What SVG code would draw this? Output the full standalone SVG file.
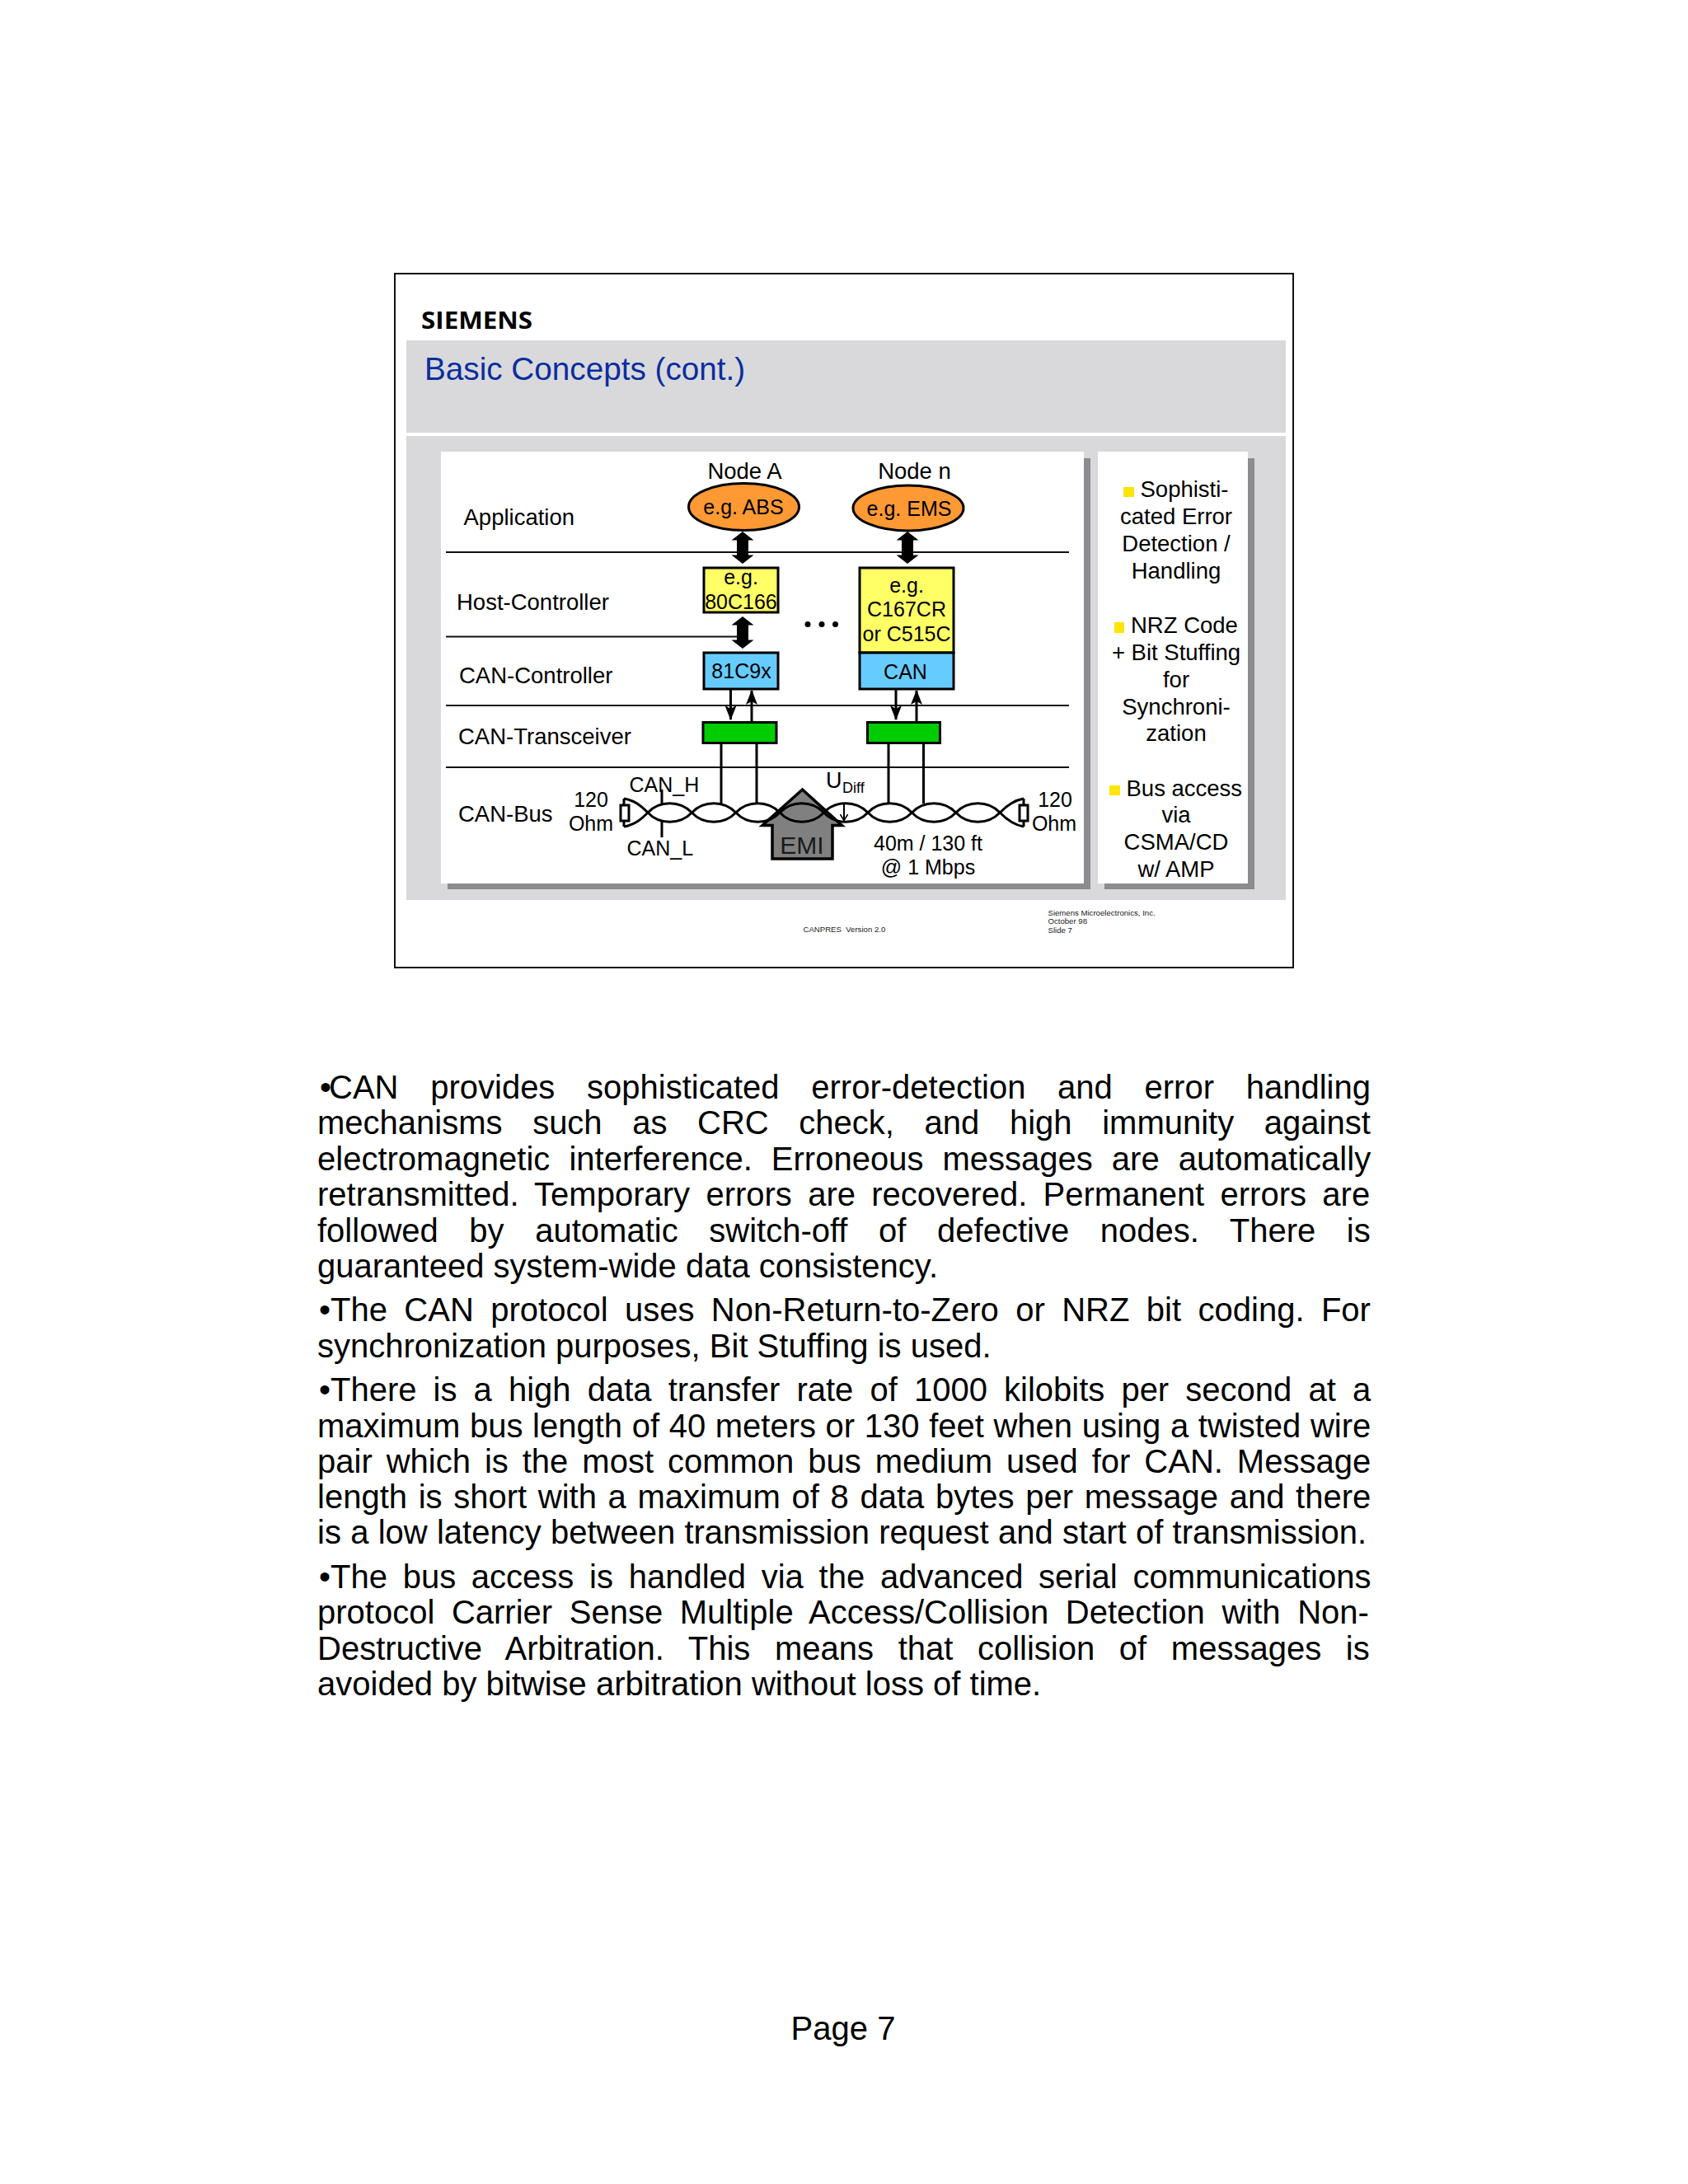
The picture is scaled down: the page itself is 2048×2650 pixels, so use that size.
<svg xmlns="http://www.w3.org/2000/svg" width="2048" height="2650" viewBox="0 0 2048 2650">
<style>
text{font-family:"Liberation Sans",Arial,sans-serif;fill:#000}
.b{font-size:40px}
.l{font-size:27.5px}
.m{font-size:25px}
.c{text-anchor:middle}
.f{font-size:9.6px;fill:#222}
.box{stroke:#000;stroke-width:3}
.rule{stroke:#111;stroke-width:2;fill:none}
.wire{stroke:#000;stroke-width:3;fill:none}
.gray{fill:#d9d9db}
.shadow{fill:#8c8c90}
.sq{fill:#ffe40a}
</style>
<defs>
<marker id="hd" viewBox="0 0 18 14" refX="17" refY="7" markerWidth="18" markerHeight="14" markerUnits="userSpaceOnUse" orient="auto"><path d="M0,0L18,7L0,14L4,7Z" fill="#000"/></marker>
<marker id="op" viewBox="0 0 9 10" refX="8.5" refY="5" markerWidth="9" markerHeight="10" markerUnits="userSpaceOnUse" orient="auto"><path d="M0,0L8,5L0,10" fill="none" stroke="#000" stroke-width="1.6"/></marker>
<path id="dbl" d="M0,0L13.5,10.5H7V28.5H13.5L0,39L-13.5,28.5H-7V10.5H-13.5Z" fill="#000"/>
</defs>
<rect width="2048" height="2650" fill="#fff"/>
<g id="slide">
<rect x="479" y="332" width="1090" height="842" fill="#fff" stroke="#111" stroke-width="2"/>
<text x="511" y="399" font-size="28" font-weight="700" style="font-family:'Open Sans',sans-serif" textLength="135" lengthAdjust="spacingAndGlyphs">SIEMENS</text>
<rect class="gray" x="493" y="413" width="1067" height="112"/>
<text x="515" y="461" font-size="38.7" style="fill:#0b2d9e">Basic Concepts (cont.)</text>
<rect class="gray" x="493" y="529" width="1067" height="563"/>
<rect class="shadow" x="543" y="556" width="780" height="523"/>
<rect x="535" y="548" width="780" height="524" fill="#fff"/>
<rect class="shadow" x="1340" y="556" width="182" height="523"/>
<rect x="1332" y="548" width="182" height="524" fill="#fff"/>
<text class="f" x="974.5" y="1130.7" style="white-space:pre">CANPRES  Version 2.0</text>
<text class="f" x="1271.5" y="1110.7">Siemens Microelectronics, Inc.</text>
<text class="f" x="1271.5" y="1121.2">October 98</text>
<text class="f" x="1271.5" y="1131.7">Slide 7</text>
</g>
<g id="layers">
<text class="l" x="562.5" y="637">Application</text>
<text class="l" x="554" y="740">Host-Controller</text>
<text class="l" x="557" y="829">CAN-Controller</text>
<text class="l" x="556" y="903">CAN-Transceiver</text>
<text class="l" x="556" y="997">CAN-Bus</text>
<path class="rule" d="M541,670H1297M541,772.5H900M541,856H1297M541,931H1297"/>
<circle cx="980" cy="757.5" r="3.5"/><circle cx="997" cy="757.5" r="3.5"/><circle cx="1013.5" cy="757.5" r="3.5"/>
</g>
<g id="node-a-app">
<ellipse class="box" cx="902.5" cy="615" rx="67" ry="28.5" fill="#ff9933"/>
<text class="l c" x="903.5" y="581">Node A</text>
<text class="m c" x="902" y="624">e.g. ABS</text>
</g>
<g id="node-n-app">
<ellipse class="box" cx="1102" cy="616.5" rx="67" ry="27.5" fill="#ff9933"/>
<text class="l c" x="1109.5" y="581">Node n</text>
<text class="m c" x="1103" y="625.5">e.g. EMS</text>
</g>
<g id="node-a-host">
<rect class="box" x="854" y="689" width="90" height="54" fill="#ffff66"/>
<text class="m c" x="899" y="708.5">e.g.</text>
<text class="m c" x="899" y="738.5">80C166</text>
</g>
<g id="node-a-can">
<rect class="box" x="854" y="792" width="90" height="44" fill="#66ccff"/>
<text class="m c" x="899.5" y="823">81C9x</text>
</g>
<g id="node-n-host">
<rect class="box" x="1043" y="689" width="114" height="103" fill="#ffff66"/>
<text class="m c" x="1100" y="719">e.g.</text>
<text class="m c" x="1100" y="748">C167CR</text>
<text class="m c" x="1100" y="778">or C515C</text>
</g>
<g id="node-n-can">
<rect class="box" x="1043" y="792" width="114" height="44" fill="#66ccff"/>
<text class="m c" x="1098.5" y="824">CAN</text>
</g>
<g id="node-a-trx"><rect class="box" x="853" y="876.5" width="89" height="25" fill="#00cc00"/></g>
<g id="node-n-trx"><rect class="box" x="1052.5" y="876.5" width="88" height="25" fill="#00cc00"/></g>
<g id="emi">
<path d="M973.5,958L1021.5,1001.5H1010V1042H937V1001.5H925Z" fill="#808080" stroke="#000" stroke-width="3.5"/>
<text x="973" y="1036" class="c" font-size="30" style="fill:#1a1a1a">EMI</text>
</g>
<g id="connectors">
<use href="#dbl" x="901" y="645"/>
<use href="#dbl" x="1101" y="645"/>
<use href="#dbl" x="901" y="748"/>
<path class="wire" marker-end="url(#hd)" d="M886.5,836V873"/>
<path class="wire" marker-end="url(#hd)" d="M912,876V838"/>
<path class="wire" marker-end="url(#hd)" d="M1087,836V873"/>
<path class="wire" marker-end="url(#hd)" d="M1112,876V838"/>
<path class="wire" d="M875,902V975M918,902V975M1078,902V975M1120.5,902V975M803,958V975M803,997V1016"/>
<path class="wire" d="M757,969C770,971 778,978 786,986c14,15 39,15 53.4,0c14,-15 39,-15 53.4,0c14,15 39,15 53.4,0c14,-15 39,-15 53.4,0c14,15 39,15 53.4,0c14,-15 39,-15 53.4,0c14,15 39,15 53.4,0c14,-15 39,-15 53.4,0C1221,994 1230,1001 1242,1003"/>
<path class="wire" d="M757,1003C770,1001 778,994 786,986c14,-15 39,-15 53.4,0c14,15 39,15 53.4,0c14,-15 39,-15 53.4,0c14,15 39,15 53.4,0c14,-15 39,-15 53.4,0c14,15 39,15 53.4,0c14,-15 39,-15 53.4,0c14,15 39,15 53.4,0C1221,978 1230,971 1242,969"/>
<path class="wire" d="M757,969V1003M1242,969V1003"/>
<rect class="wire" x="753" y="977" width="10" height="19" style="fill:#fff"/>
<rect class="wire" x="1237" y="977" width="10" height="19" style="fill:#fff"/>
<path d="M1024,975V996" stroke="#000" stroke-width="2" marker-end="url(#op)"/>
</g>
<g id="bus-labels">
<text class="m" x="763.5" y="961">CAN_H</text>
<text class="m" x="760.5" y="1038">CAN_L</text>
<text class="m c" x="717" y="979">120</text>
<text class="m c" x="717" y="1008">Ohm</text>
<text class="m c" x="1280" y="979">120</text>
<text class="m c" x="1279" y="1008">Ohm</text>
<text x="1002" y="956" font-size="27">U</text>
<text x="1022" y="962" font-size="18">Diff</text>
<text class="m c" x="1126" y="1032">40m / 130 ft</text>
<text class="m c" x="1126" y="1061">@ 1 Mbps</text>
</g>
<g id="features">
<rect class="sq" x="1363" y="591" width="13" height="12"/>
<rect class="sq" x="1352" y="755" width="12" height="13"/>
<rect class="sq" x="1346" y="953" width="13" height="12"/>
<text class="l" x="1383.5" y="603">Sophisti-</text>
<text class="l c" x="1427" y="636">cated Error</text>
<text class="l c" x="1427" y="669">Detection /</text>
<text class="l c" x="1427" y="702">Handling</text>
<text class="l" x="1372" y="767.5">NRZ Code</text>
<text class="l c" x="1427" y="800.5">+ Bit Stuffing</text>
<text class="l c" x="1427" y="833.5">for</text>
<text class="l c" x="1427" y="866.5">Synchroni-</text>
<text class="l c" x="1427" y="899">zation</text>
<text class="l" x="1366.5" y="965.5">Bus access</text>
<text class="l c" x="1427" y="998">via</text>
<text class="l c" x="1427" y="1031">CSMA/CD</text>
<text class="l c" x="1427" y="1064">w/ AMP</text>
</g>
<g id="notes">
<text class="b" x="388" y="1333" word-spacing="27.6">•<tspan dx="-3">CAN</tspan> provides sophisticated error-detection and error handling</text>
<text class="b" x="385" y="1376" word-spacing="25.5">mechanisms such as CRC check, and high immunity against</text>
<text class="b" x="385" y="1419.5" word-spacing="11.95">electromagnetic interference. Erroneous messages are automatically</text>
<text class="b" x="385" y="1463" word-spacing="8.2">retransmitted. Temporary errors are recovered. Permanent errors are</text>
<text class="b" x="385" y="1506.5" word-spacing="26.5">followed by automatic switch-off of defective nodes. There is</text>
<text class="b" x="385" y="1550">guaranteed system-wide data consistency.</text>
<text class="b" x="387" y="1603" word-spacing="9.3">•The CAN protocol uses Non-Return-to-Zero or NRZ bit coding. For</text>
<text class="b" x="385" y="1646.5">synchronization purposes, Bit Stuffing is used.</text>
<text class="b" x="387" y="1700" word-spacing="9">•There is a high data transfer rate of 1000 kilobits per second at a</text>
<text class="b" x="385" y="1743.5" word-spacing=".5">maximum bus length of 40 meters or 130 feet when using a twisted wire</text>
<text class="b" x="385" y="1787" word-spacing="5.85">pair which is the most common bus medium used for CAN. Message</text>
<text class="b" x="385" y="1830" word-spacing="2.55">length is short with a maximum of 8 data bytes per message and there</text>
<text class="b" x="385" y="1873" word-spacing=".15">is a low latency between transmission request and start of transmission.</text>
<text class="b" x="387" y="1927" word-spacing="7.6">•The bus access is handled via the advanced serial communications</text>
<text class="b" x="385" y="1970" word-spacing="9.5">protocol Carrier Sense Multiple Access/Collision Detection with Non-</text>
<text class="b" x="385" y="2013.5" word-spacing="18.5">Destructive Arbitration. This means that collision of messages is</text>
<text class="b" x="385" y="2057">avoided by bitwise arbitration without loss of time.</text>
<text class="b c" x="1023" y="2475">Page 7</text>
</g>
</svg>
